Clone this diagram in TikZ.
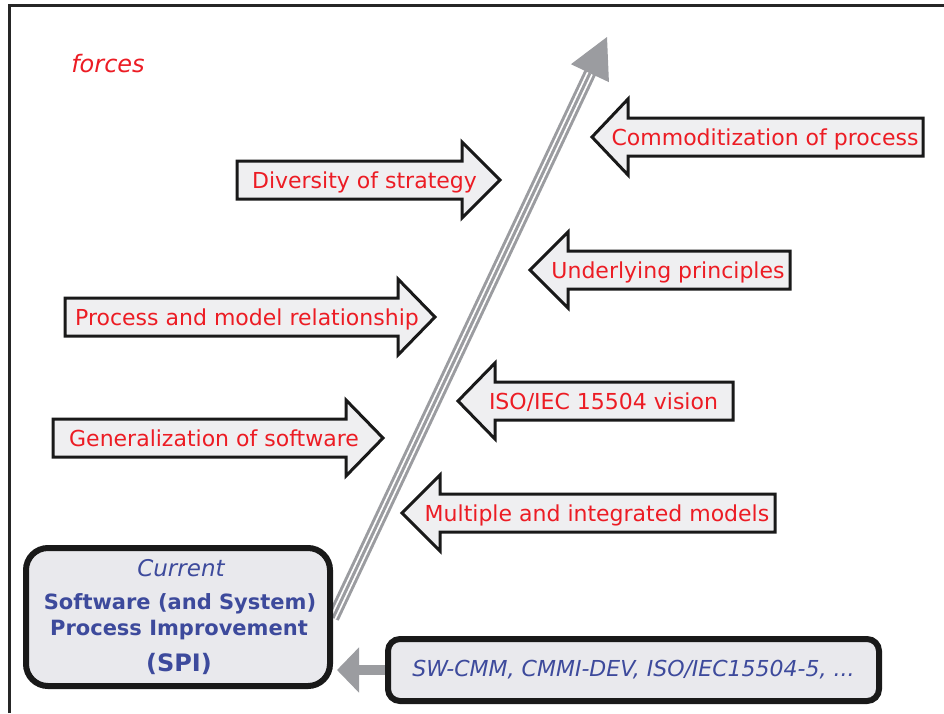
\documentclass[tikz,border=0pt]{standalone}
\usepackage{fontspec}
\setmainfont{DejaVu Sans}
\usetikzlibrary{calc,arrows.meta}
\definecolor{forcered}{HTML}{EC1C24}
\definecolor{spiblue}{HTML}{3D4A9C}
\definecolor{arrfill}{HTML}{EFEFF1}
\definecolor{boxfill}{HTML}{E9E9ED}
\definecolor{shaftgrey}{HTML}{9B9CA0}
\tikzset{
  forceshape/.style={draw=black!90, line width=3pt, fill=arrfill, line join=miter},
  forcetext/.style={text=forcered, font=\fontsize{22}{26}\selectfont, inner sep=0pt, text height=16pt, text depth=5pt, yshift=-2.5pt},
  spitext/.style={text=spiblue, inner sep=0pt},
  roundbox/.style={draw=black!90, line width=6pt, fill=boxfill, inner sep=0pt}
}
% right-pointing force arrow: xl, xb, xt, yc
\newcommand\forceR[4]{%
  \draw[forceshape] (#1,#4-19) -- (#2,#4-19) -- (#2,#4-38) -- (#3,#4) -- (#2,#4+38) -- (#2,#4+19) -- (#1,#4+19) -- cycle;}
% left-pointing force arrow: xt, xb, xr, yc
\newcommand\forceL[4]{%
  \draw[forceshape] (#1,#4) -- (#2,#4-38) -- (#2,#4-19) -- (#3,#4-19) -- (#3,#4+19) -- (#2,#4+19) -- (#2,#4+38) -- cycle;}
\begin{document}
\begin{tikzpicture}[x=1pt,y=-1pt]
\useasboundingbox (0,0) rectangle (944,713);
\fill[white] (0,0) rectangle (944,713);
% frame
\coordinate (fbl) at (9,713);
\coordinate (ftl) at (9,5.5);
\coordinate (ftr) at (944,5.5);
\draw[line width=3pt, black!85] (fbl) -- (ftl) -- (ftr);

\node[text=forcered, font=\itshape\fontsize{24}{28}\selectfont, inner sep=0pt] (forces) at (108,64) {forces};

% main diagonal arrow
\coordinate (dstart) at (333,618);
\coordinate (dtip) at (607,37);
\coordinate (dbase) at ($(dtip)!40pt!(dstart)$);
\coordinate (dover) at ($(dtip)!38pt!(dstart)$);
\draw[shaftgrey, line width=12.5pt] (dstart) -- (dover);
\draw[white, line width=6.5pt] (dstart) -- (dbase);
\draw[shaftgrey, line width=3pt] (dstart) -- (dbase);
\fill[shaftgrey] (dtip) -- ($(dbase)!21pt!90:(dtip)$) -- ($(dbase)!21pt!-90:(dtip)$) -- cycle;

% force arrows
\forceR{237}{462}{500}{180}
\node[forcetext] (div) at (364.5,180) {Diversity of strategy};
\forceL{592}{628}{923}{137}
\node[forcetext] (com) at (765,137) {Commoditization of process};
\forceL{530}{568}{790}{270}
\node[forcetext] (und) at (668,270) {Underlying principles};
\forceR{65}{398}{435}{317}
\node[forcetext] (pro) at (247,317) {Process and model relationship};
\forceL{458}{495}{733}{401}
\node[forcetext] (iso) at (603.5,401) {ISO/IEC 15504 vision};
\forceR{53}{346}{383}{438}
\node[forcetext] (gen) at (214,438) {Generalization of software};
\forceL{402}{440}{775}{513}
\node[forcetext] (mul) at (597,513) {Multiple and integrated models};

% SPI box
\node[roundbox, rounded corners=22pt, minimum width=304pt, minimum height=138pt] (spi) at (178,617) {};
\node[spitext, font=\itshape\fontsize{23}{26}\selectfont] (cur) at (181,568) {Current};
\node[spitext, font=\bfseries\fontsize{21}{24}\selectfont] (swl) at (180,604) {Software (and System)};
\node[spitext, font=\bfseries\fontsize{21}{24}\selectfont] (pil) at (179,630) {Process Improvement};
\node[spitext, font=\bfseries\fontsize{24}{28}\selectfont] (spil) at (179,664) {(SPI)};

% models box
\node[roundbox, rounded corners=12pt, minimum width=491pt, minimum height=62pt,
      text=spiblue, font=\itshape\fontsize{22}{25}\selectfont] (models) at (633.5,670) {SW-CMM, CMMI-DEV, ISO/IEC15504-5, ...};
\draw[shaftgrey, line width=10pt, -{Triangle[length=22pt,width=44pt]}] (models.west) -- ($(spi.east |- models.west)+(4,0)$);
\end{tikzpicture}
\end{document}
